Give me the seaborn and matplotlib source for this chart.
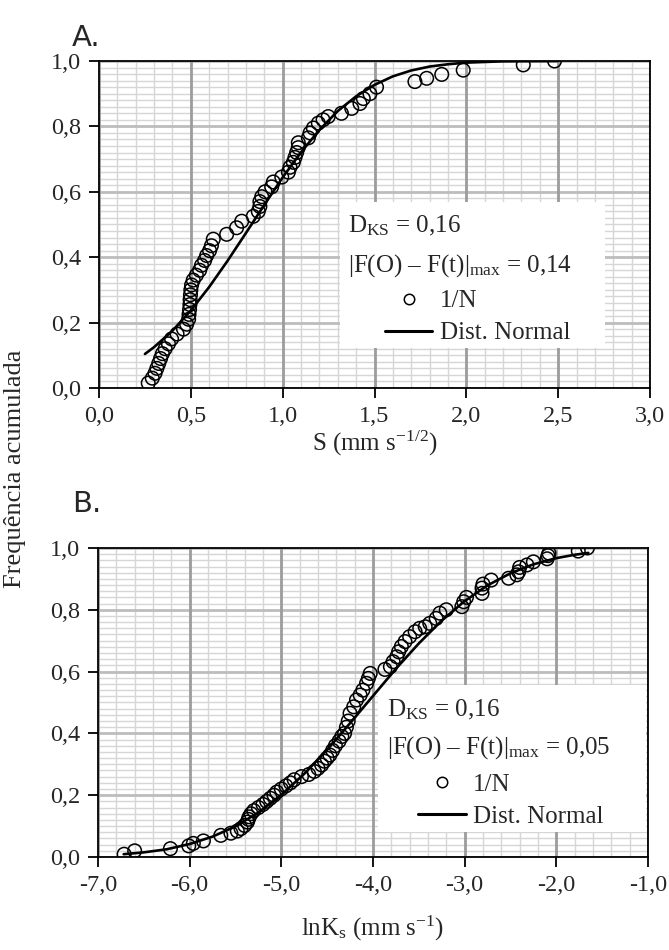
import matplotlib
matplotlib.use("Agg")
import numpy as np
import matplotlib.pyplot as plt
import seaborn as sns
from matplotlib.ticker import MultipleLocator, FuncFormatter
from matplotlib.lines import Line2D
from matplotlib.patches import Rectangle

# painel A: sorptividade S (mm s^-1/2), frequencia 1/N observada
a_s = [0.268, 0.29, 0.305, 0.315, 0.325, 0.335, 0.345, 0.36, 0.378, 0.395,
       0.425, 0.46, 0.477, 0.488, 0.49, 0.493, 0.495, 0.496, 0.498, 0.50,
       0.504, 0.513, 0.53, 0.548, 0.558, 0.575, 0.586, 0.602, 0.612, 0.622,
       0.695, 0.749, 0.777, 0.84, 0.867, 0.876, 0.876, 0.886, 0.904, 0.94,
       0.949, 0.995, 1.031, 1.04, 1.058, 1.067, 1.076, 1.085, 1.085, 1.14,
       1.149, 1.167, 1.194, 1.22, 1.248, 1.32, 1.376, 1.421, 1.439, 1.475,
       1.511, 1.72, 1.784, 1.866, 1.983, 2.31, 2.48]
a_freq = [0.015, 0.03, 0.045, 0.06, 0.075, 0.09, 0.105, 0.12, 0.135, 0.15,
          0.165, 0.18, 0.195, 0.21, 0.225, 0.24, 0.255, 0.27, 0.285, 0.30,
          0.315, 0.33, 0.345, 0.36, 0.375, 0.39, 0.405, 0.42, 0.435, 0.455,
          0.47, 0.49, 0.51, 0.525, 0.54, 0.555, 0.57, 0.585, 0.60, 0.615,
          0.63, 0.645, 0.66, 0.675, 0.69, 0.705, 0.72, 0.735, 0.75, 0.765,
          0.78, 0.795, 0.81, 0.82, 0.83, 0.84, 0.855, 0.87, 0.885, 0.90,
          0.92, 0.937, 0.947, 0.959, 0.972, 0.988, 1.0]
# curva da distribuicao normal
a_norm_s = [0.25, 0.3, 0.4, 0.5, 0.6, 0.7, 0.8, 0.9, 1.0, 1.1, 1.2, 1.3,
            1.4, 1.5, 1.6, 1.7, 1.8, 1.9, 2.0, 2.2, 2.5]
a_norm_f = [0.104, 0.125, 0.175, 0.237, 0.309, 0.389, 0.474, 0.560, 0.644,
            0.721, 0.789, 0.847, 0.892, 0.927, 0.953, 0.971, 0.983, 0.990,
            0.995, 0.999, 1.0]

# painel B: lnKs (mm s^-1)
b_lnk = [-6.715, -6.60, -6.21, -6.01, -5.96, -5.85, -5.66, -5.55, -5.48, -5.44,
         -5.40, -5.37, -5.36, -5.35, -5.33, -5.30, -5.25, -5.20, -5.16, -5.12,
         -5.08, -5.05, -5.00, -4.95, -4.90, -4.86, -4.78, -4.70, -4.64, -4.60,
         -4.56, -4.53, -4.50, -4.47, -4.44, -4.41, -4.37, -4.34, -4.31, -4.29,
         -4.27, -4.25, -4.21, -4.18, -4.14, -4.11, -4.07, -4.05, -4.03, -3.87,
         -3.81, -3.78, -3.74, -3.72, -3.69, -3.65, -3.60, -3.54, -3.49, -3.43,
         -3.38, -3.31, -3.27, -3.20, -3.03, -3.01, -2.98, -2.81, -2.81, -2.80,
         -2.71, -2.52, -2.43, -2.41, -2.40, -2.32, -2.25, -2.10, -2.09, -2.08,
         -1.76, -1.66]
b_freq = [0.009, 0.02, 0.027, 0.036, 0.044, 0.052, 0.07, 0.077, 0.084, 0.092,
          0.102, 0.113, 0.122, 0.13, 0.14, 0.15, 0.16, 0.17, 0.18, 0.19,
          0.20, 0.21, 0.22, 0.23, 0.24, 0.25, 0.26, 0.267, 0.277, 0.287,
          0.298, 0.31, 0.32, 0.33, 0.345, 0.36, 0.375, 0.39, 0.40, 0.42,
          0.44, 0.465, 0.486, 0.508, 0.524, 0.54, 0.562, 0.578, 0.594, 0.607,
          0.616, 0.632, 0.648, 0.664, 0.681, 0.697, 0.713, 0.729, 0.74, 0.745,
          0.756, 0.772, 0.789, 0.80, 0.81, 0.826, 0.84, 0.853, 0.87, 0.883,
          0.896, 0.902, 0.913, 0.923, 0.937, 0.945, 0.955, 0.965, 0.975, 0.983,
          0.99, 1.0]
b_norm_x = [-6.72, -6.5, -6.25, -6.0, -5.75, -5.5, -5.25, -5.0, -4.75, -4.5,
            -4.25, -4.0, -3.75, -3.5, -3.25, -3.0, -2.75, -2.5, -2.25, -2.0,
            -1.8, -1.65]
b_norm_f = [0.009, 0.015, 0.025, 0.042, 0.066, 0.099, 0.144, 0.201, 0.269,
            0.347, 0.433, 0.521, 0.609, 0.691, 0.765, 0.828, 0.879, 0.918,
            0.947, 0.967, 0.978, 0.984]

sns.set_theme(style="ticks")
plt.rcParams["font.family"] = ["Liberation Serif", "DejaVu Serif"]
plt.rcParams["mathtext.fontset"] = "custom"
plt.rcParams["mathtext.rm"] = "Liberation Serif"
plt.rcParams["mathtext.it"] = "Liberation Serif:italic"

FS = 17.5


def comma(v, pos):
    return f"{v:.1f}".replace(".", ",")


def style_axes(ax, xlim, xmajor, xminor):
    x0, x1 = xlim
    # grade desenhada a mao para controlar a ordem (menor < y maior < x maior)
    ax.vlines(np.arange(x0, x1 + 1e-9, xminor), 0, 1, color="#d6d6d6", lw=1.0, zorder=0.2)
    ax.hlines(np.arange(0, 1.0001, 0.02), x0, x1, color="#d6d6d6", lw=1.0, zorder=0.2)
    ax.hlines(np.arange(0, 1.0001, 0.2), x0, x1, color="#bdbdbd", lw=2.0, zorder=0.3)
    ax.vlines(np.arange(x0, x1 + 1e-9, xmajor), 0, 1, color="#9c9c9c", lw=2.0, zorder=0.4)
    ax.set_xlim(x0, x1)
    ax.set_ylim(0, 1)
    ax.xaxis.set_major_locator(MultipleLocator(xmajor))
    ax.yaxis.set_major_locator(MultipleLocator(0.2))
    ax.xaxis.set_major_formatter(FuncFormatter(comma))
    ax.yaxis.set_major_formatter(FuncFormatter(comma))
    ax.grid(False)
    ax.tick_params(which="major", direction="out", length=7, width=1.3,
                   labelsize=FS, pad=6, color="black")
    for sp in ax.spines.values():
        sp.set_visible(True)
        sp.set_color("black")
        sp.set_linewidth(1.3)
        sp.set_zorder(7)
    ax.set_ylabel("")


def draw_panel(ax, xs, ys, nx, ny, box, txt_x, txt_y, stats, leg_anchor):
    sns.scatterplot(x=xs, y=ys, ax=ax, marker="o", s=95, zorder=3)
    pts = ax.collections[-1]
    pts.set_facecolor("none")
    pts.set_edgecolor("black")
    pts.set_linewidth(1.1)
    sns.lineplot(x=nx, y=ny, ax=ax, color="black", lw=1.9, zorder=4)
    ax.add_patch(Rectangle((box[0], box[1]), box[2], box[3], transform=ax.transAxes,
                           facecolor="white", edgecolor="none", zorder=2))
    ax.text(txt_x, txt_y[0], r"D$_{\mathrm{KS}}$ = 0,16", transform=ax.transAxes,
            fontsize=18, va="center", ha="left", zorder=5)
    ax.text(txt_x, txt_y[1], r"|F(O) – F(t)|$_{\mathrm{max}}$ = " + stats,
            transform=ax.transAxes, fontsize=18, va="center", ha="left", zorder=5)
    handles = [Line2D([], [], marker="o", ls="none", mfc="none", mec="black",
                      ms=7.5, mew=1.1),
               Line2D([], [], color="black", lw=2.2)]
    leg = ax.legend(handles, ["1/N", "Dist. Normal"], loc="upper left",
                    bbox_to_anchor=leg_anchor, frameon=False, fontsize=18,
                    borderpad=0, borderaxespad=0, handlelength=1.9,
                    handletextpad=0.3, labelspacing=0.38)
    leg.set_zorder(6)


fig = plt.figure(figsize=(6.69, 9.5), dpi=100)
axA = fig.add_axes([0.148, 0.5916, 0.8236, 0.3442])
axB = fig.add_axes([0.1465, 0.0979, 0.822, 0.3253])

draw_panel(axA, a_s, a_freq, a_norm_s, a_norm_f,
           box=(0.437, 0.122, 0.481, 0.448), txt_x=0.452,
           txt_y=(0.495, 0.373), stats="0,14", leg_anchor=(0.519, 0.30))
style_axes(axA, (0, 3), 0.5, 0.1)
axA.set_xlabel(r"S (mm s$^{\mathrm{-1/2}}$)", fontsize=18, labelpad=1)

draw_panel(axB, b_lnk, b_freq, b_norm_x, b_norm_f,
           box=(0.509, 0.081, 0.487, 0.476), txt_x=0.525,
           txt_y=(0.476, 0.353), stats="0,05", leg_anchor=(0.582, 0.27))
style_axes(axB, (-7, -1), 1.0, 0.2)
axB.set_xlabel(r"lnK$_{\mathrm{s}}$ (mm s$^{\mathrm{-1}}$)", fontsize=18, labelpad=13)

fig.text(0.022, 0.507, "Frequência acumulada", rotation=90, va="center",
         ha="center", fontsize=19)
letter_font = ["Liberation Sans Narrow", "DejaVu Sans"]
fig.text(72 / 669, 1 - 46 / 950, "A.", family=letter_font, fontsize=21, va="baseline")
fig.text(72 / 669, 1 - 512 / 950, "B.", family=letter_font, fontsize=21, va="baseline")

fig.savefig("out.png", dpi=100)
